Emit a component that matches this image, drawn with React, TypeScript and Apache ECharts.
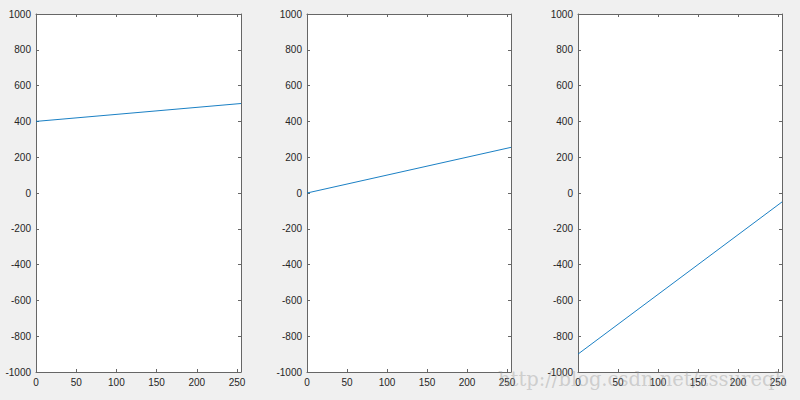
import React, { useEffect, useRef } from "react";
import * as echarts from "echarts";

const xValues = [0, 255];
const line1 = [400, 500];
const line2 = [0, 255];
const line3 = [-900, -50];
const series = [line1, line2, line3];
const watermark = "http://blog.csdn.net/zssureqh";

const grids = [
  { left: 36, top: 14, width: 205, height: 358 },
  { left: 307, top: 14, width: 204, height: 358 },
  { left: 578, top: 14, width: 204, height: 358 },
];

export default function App() {
  const ref = useRef<HTMLDivElement>(null);
  useEffect(() => {
    if (!ref.current) return;
    const chart = echarts.init(ref.current, undefined, { renderer: "svg" });
    const axisColor = "#666666";
    const labelStyle = {
      color: "#262626",
      fontSize: 10,
      fontFamily: "Liberation Sans, Arial, sans-serif",
      formatter: (v: number) => String(v),
    };
    const xAxis: any[] = [];
    const yAxis: any[] = [];
    const seriesOpts: any[] = [];
    grids.forEach((g, i) => {
      ["bottom", "top"].forEach((pos) => {
        xAxis.push({
          type: "value",
          gridIndex: i,
          position: pos,
          min: 0,
          max: 255,
          interval: 50,
          axisLine: { show: true, onZero: false, lineStyle: { color: axisColor, width: 1 } },
          axisTick: { show: true, inside: true, length: 3, lineStyle: { color: axisColor } },
          axisLabel: pos === "bottom" ? { ...labelStyle, margin: 5, showMaxLabel: false } : { show: false },
          splitLine: { show: false },
        });
      });
      ["left", "right"].forEach((pos) => {
        yAxis.push({
          type: "value",
          gridIndex: i,
          position: pos,
          min: -1000,
          max: 1000,
          interval: 200,
          axisLine: { show: true, onZero: false, lineStyle: { color: axisColor, width: 1 } },
          axisTick: { show: true, inside: true, length: 3, lineStyle: { color: axisColor } },
          axisLabel: pos === "left" ? { ...labelStyle, margin: 5 } : { show: false },
          splitLine: { show: false },
        });
      });
      seriesOpts.push({
        type: "line",
        xAxisIndex: i * 2,
        yAxisIndex: i * 2,
        data: xValues.map((x, k) => [x, series[i][k]]),
        symbol: "none",
        lineStyle: { color: "#0072BD", width: 0.9 },
      });
    });
    chart.setOption({
      animation: false,
      backgroundColor: "#f0f0f0",
      grid: grids.map((g) => ({ ...g, show: true, backgroundColor: "#ffffff", borderWidth: 0 })),
      xAxis,
      yAxis,
      series: seriesOpts,
      graphic: [
        {
          type: "text",
          left: 498,
          top: 369,
          z: 100,
          style: {
            text: watermark,
            fill: "rgba(150,150,150,0.4)",
            fontSize: 19.5,
            fontFamily: "DejaVu Serif, serif",
          },
        },
      ],
    });
    return () => chart.dispose();
  }, []);
  return (
    <div
      ref={ref}
      style={{ position: "fixed", left: 0, top: 0, width: 800, height: 400 }}
    />
  );
}
